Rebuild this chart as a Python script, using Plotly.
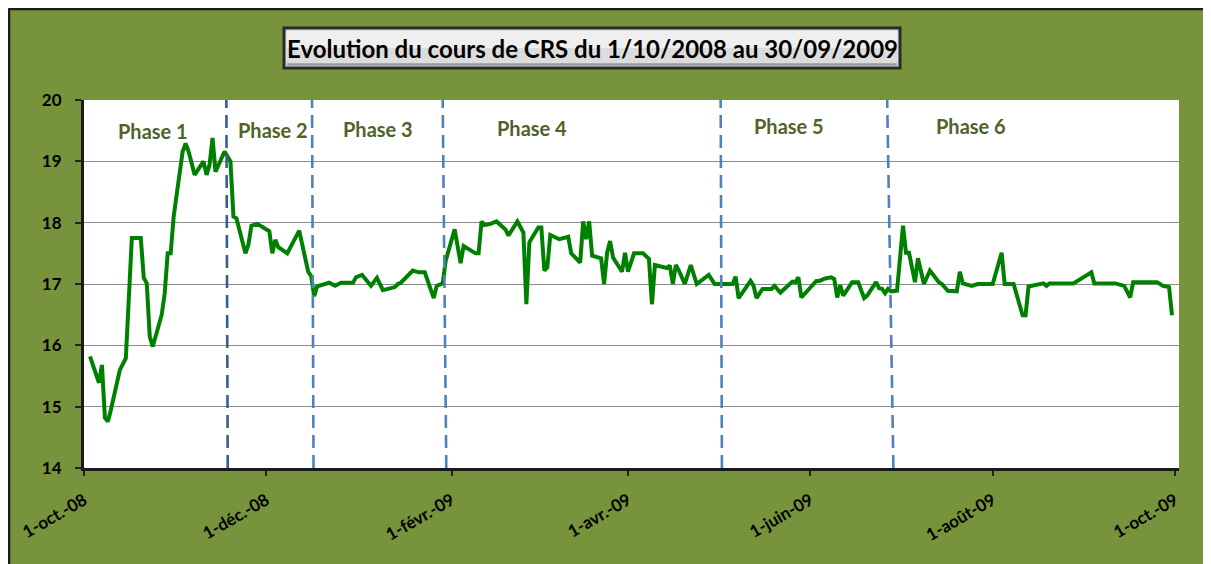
import plotly.graph_objects as go

# ---------------- data ----------------
dates = [
    "2008-10-03", "2008-10-06", "2008-10-07", "2008-10-08", "2008-10-09", "2008-10-10",
    "2008-10-13", "2008-10-15", "2008-10-17", "2008-10-20", "2008-10-21", "2008-10-22",
    "2008-10-23", "2008-10-24", "2008-10-27", "2008-10-28", "2008-10-29", "2008-10-30",
    "2008-10-31", "2008-11-03", "2008-11-04", "2008-11-05", "2008-11-07", "2008-11-10",
    "2008-11-11", "2008-11-12", "2008-11-13", "2008-11-14", "2008-11-17", "2008-11-19",
    "2008-11-20", "2008-11-21", "2008-11-24", "2008-11-25", "2008-11-26", "2008-11-28",
    "2008-12-02", "2008-12-03", "2008-12-04", "2008-12-05", "2008-12-08", "2008-12-12",
    "2008-12-15", "2008-12-16", "2008-12-17", "2008-12-18", "2008-12-22", "2008-12-24",
    "2008-12-26", "2008-12-30", "2008-12-31", "2009-01-02", "2009-01-05", "2009-01-07",
    "2009-01-09", "2009-01-13", "2009-01-14", "2009-01-15", "2009-01-19", "2009-01-21",
    "2009-01-23", "2009-01-26", "2009-01-27", "2009-01-29", "2009-01-30", "2009-02-02",
    "2009-02-04", "2009-02-05", "2009-02-09", "2009-02-10", "2009-02-11", "2009-02-12",
    "2009-02-14", "2009-02-16", "2009-02-19", "2009-02-20", "2009-02-23", "2009-02-25",
    "2009-02-26", "2009-02-27", "2009-03-02", "2009-03-03", "2009-03-04", "2009-03-05",
    "2009-03-06", "2009-03-09", "2009-03-12", "2009-03-13", "2009-03-16", "2009-03-17",
    "2009-03-18", "2009-03-19", "2009-03-20", "2009-03-23", "2009-03-24", "2009-03-25",
    "2009-03-26", "2009-03-27", "2009-03-30", "2009-03-31", "2009-04-01", "2009-04-03",
    "2009-04-06", "2009-04-08", "2009-04-09", "2009-04-10", "2009-04-14", "2009-04-15",
    "2009-04-16", "2009-04-17", "2009-04-18", "2009-04-20", "2009-04-22", "2009-04-24",
    "2009-04-28", "2009-04-30", "2009-05-06", "2009-05-07", "2009-05-08", "2009-05-12",
    "2009-05-13", "2009-05-14", "2009-05-16", "2009-05-19", "2009-05-20", "2009-05-22",
    "2009-05-26", "2009-05-27", "2009-05-28", "2009-05-29", "2009-06-03", "2009-06-04",
    "2009-06-06", "2009-06-08", "2009-06-09", "2009-06-10", "2009-06-11", "2009-06-12",
    "2009-06-15", "2009-06-17", "2009-06-19", "2009-06-20", "2009-06-23", "2009-06-24",
    "2009-06-25", "2009-06-26", "2009-06-27", "2009-06-28", "2009-06-30", "2009-07-02",
    "2009-07-03", "2009-07-04", "2009-07-06", "2009-07-07", "2009-07-09", "2009-07-11",
    "2009-07-14", "2009-07-15", "2009-07-17", "2009-07-20", "2009-07-21", "2009-07-22",
    "2009-07-25", "2009-07-27", "2009-08-01", "2009-08-04", "2009-08-05", "2009-08-08",
    "2009-08-11", "2009-08-12", "2009-08-13", "2009-08-18", "2009-08-19", "2009-08-20",
    "2009-08-28", "2009-09-03", "2009-09-04", "2009-09-11", "2009-09-14", "2009-09-16",
    "2009-09-17", "2009-09-25", "2009-09-27", "2009-09-29", "2009-09-30",
]
prices = [
    15.82, 15.39, 15.68, 14.82, 14.76, 14.95,
    15.60, 15.79, 17.75, 17.75, 17.10, 17.01,
    16.14, 15.98, 16.50, 16.85, 17.50, 17.50,
    18.10, 19.16, 19.29, 19.16, 18.78, 19.00,
    18.78, 18.94, 19.38, 18.83, 19.16, 19.00,
    18.10, 18.07, 17.50, 17.64, 17.95, 17.98,
    17.86, 17.50, 17.72, 17.60, 17.50, 17.87,
    17.20, 17.13, 16.80, 16.96, 17.02, 16.97,
    17.02, 17.02, 17.11, 17.15, 16.97, 17.10,
    16.90, 16.95, 17.00, 17.02, 17.22, 17.19,
    17.19, 16.77, 16.97, 17.01, 17.38, 17.89,
    17.34, 17.62, 17.50, 17.50, 18.02, 17.96,
    17.98, 18.02, 17.89, 17.79, 18.02, 17.84,
    16.67, 17.68, 17.92, 17.92, 17.22, 17.27,
    17.80, 17.73, 17.77, 17.50, 17.35, 18.02,
    17.73, 18.02, 17.46, 17.42, 17.00, 17.51,
    17.70, 17.43, 17.20, 17.51, 17.20, 17.50,
    17.50, 17.41, 16.67, 17.31, 17.26, 17.30,
    17.00, 17.31, 17.22, 17.00, 17.31, 17.00,
    17.15, 17.00, 17.00, 17.12, 16.77, 17.05,
    16.97, 16.77, 16.92, 16.92, 16.97, 16.86,
    17.04, 17.03, 17.11, 16.78, 17.05, 17.05,
    17.09, 17.11, 17.08, 16.78, 16.98, 16.81,
    17.03, 17.03, 16.77, 16.81, 17.03, 16.93,
    16.92, 16.85, 16.92, 16.88, 16.89, 17.95,
    17.51, 17.51, 17.03, 17.42, 17.00, 17.22,
    17.03, 17.00, 16.89, 16.88, 17.20, 17.01,
    16.97, 17.00, 17.00, 17.51, 17.00, 17.00,
    16.49, 16.49, 16.96, 17.01, 16.97, 17.01,
    17.01, 17.19, 17.01, 17.01, 16.97, 16.78,
    17.03, 17.03, 16.97, 16.95, 16.49,
]

tick_dates = ["2008-10-01", "2008-12-01", "2009-02-01", "2009-04-01",
              "2009-06-01", "2009-08-01", "2009-10-01"]
tick_labels = ["1-oct.-08", "1-déc.-08", "1-févr.-09", "1-avr.-09",
               "1-juin-09", "1-août-09", "1-oct.-09"]

y_ticks = [14, 15, 16, 17, 18, 19, 20]

# phase boundaries (bottom date, top date)
phase_bounds_bottom = ["2008-11-18 02:00", "2008-12-16 19:00", "2009-01-30 05:00",
                       "2009-05-02 10:00", "2009-06-28 19:00"]
phase_bounds_top = ["2008-11-17 15:00", "2008-12-16 07:00", "2009-01-29 00:00",
                    "2009-05-02 00:00", "2009-06-26 17:00"]
phase_names = ["Phase 1", "Phase 2", "Phase 3", "Phase 4", "Phase 5", "Phase 6"]

title_text = "Evolution du cours de CRS du 1/10/2008 au 30/09/2009"

# ---------------- layout helpers ----------------
OFF = 8                       # page offset of the figure (body margin)
W, H = 1211 - OFF, 564 - OFF  # figure size
# plot-area box, in page pixels
PL, PR, PT, PB = 84, 1179, 100, 468
L, R, T, B = PL - OFF, PR - OFF, PT - OFF, PB - OFF


def px(x):  # page x -> paper
    return (x - OFF - L) / (R - L)


def py(y):  # page y -> paper
    return (B - (y - OFF)) / (B - T)


GREEN_BG = "#77933C"
FONT = "Lato"

fig = go.Figure()
fig.add_trace(go.Scatter(
    x=dates, y=prices, mode="lines",
    line=dict(color="#008000", width=4),
    hoverinfo="x+y", showlegend=False,
))

shapes = []
# dark frame line along the top and left edges of the figure
shapes.append(dict(type="line", xref="paper", yref="paper",
                   x0=px(8.5), x1=px(1240), y0=py(9), y1=py(9),
                   line=dict(color="#1c1c1c", width=2.5)))
shapes.append(dict(type="line", xref="paper", yref="paper",
                   x0=px(9), x1=px(9), y0=py(600), y1=py(8.5),
                   line=dict(color="#1c1c1c", width=2.5)))
# title box (bevelled look)
shapes.append(dict(type="rect", xref="paper", yref="paper",
                   x0=px(284), x1=px(900), y0=py(68), y1=py(28),
                   fillcolor="#DCDCDC", line=dict(color="#2a2a2a", width=3)))
shapes.append(dict(type="rect", xref="paper", yref="paper",
                   x0=px(287), x1=px(897), y0=py(48), y1=py(31),
                   fillcolor="#EFEFEF", line=dict(width=0)))
shapes.append(dict(type="line", xref="paper", yref="paper",
                   x0=px(287), x1=px(897), y0=py(64.5), y1=py(64.5),
                   line=dict(color="#9A9A9A", width=2.5)))

# phase boundary dashed lines
for i, (xb, xt) in enumerate(zip(phase_bounds_bottom, phase_bounds_top)):
    col = "#355E91" if i == 0 else "#4F81BD"
    shapes.append(dict(type="line", xref="x", yref="paper",
                       x0=xb, x1=xt, y0=0, y1=1,
                       line=dict(color=col, width=2.6, dash="13px,7px")))

annotations = [dict(
    xref="paper", yref="paper", x=px(592), y=py(48),
    text=title_text, showarrow=False, xanchor="center", yanchor="middle",
    font=dict(family=FONT, size=24, color="black", weight="bold"),
)]

phase_px = [(153, 131), (273, 130), (378, 129), (532, 128), (789, 126), (971, 126)]
for name, (xx, yy) in zip(phase_names, phase_px):
    annotations.append(dict(
        xref="paper", yref="paper", x=px(xx), y=py(yy),
        text=name, showarrow=False, xanchor="center", yanchor="middle",
        font=dict(family=FONT, size=20, color="#4F6228", weight="bold"),
    ))

fig.update_layout(
    width=W, height=H,
    margin=dict(l=L, r=W - R, t=T, b=H - B, pad=0),
    paper_bgcolor=GREEN_BG,
    plot_bgcolor="white",
    shapes=shapes,
    annotations=annotations,
    showlegend=False,
    xaxis=dict(
        type="date",
        range=["2008-10-01", "2009-10-02 08:00"],
        tickmode="array", tickvals=tick_dates, ticktext=tick_labels,
        tickangle=-30,
        tickfont=dict(family=FONT, size=17, color="black", weight="bold"),
        ticks="outside", ticklen=5, tickwidth=2, tickcolor="#222",
        showgrid=False, zeroline=False,
        showline=True, linecolor="#1a1a1a", linewidth=3,
        ticklabelstandoff=8,
    ),
    yaxis=dict(
        range=[14, 20],
        tickmode="array", tickvals=y_ticks,
        tickfont=dict(family=FONT, size=17, color="black", weight="bold"),
        ticks="outside", ticklen=6, tickwidth=2, tickcolor="#222",
        showgrid=True, gridcolor="#8C8C8C", gridwidth=1.4,
        zeroline=False,
        showline=True, linecolor="#1a1a1a", linewidth=3,
        ticklabelstandoff=10,
    ),
)

fig.write_html(
    "out.html",
    post_script="document.documentElement.style.overflow='hidden';"
                "document.body.style.overflow='hidden';",
)
